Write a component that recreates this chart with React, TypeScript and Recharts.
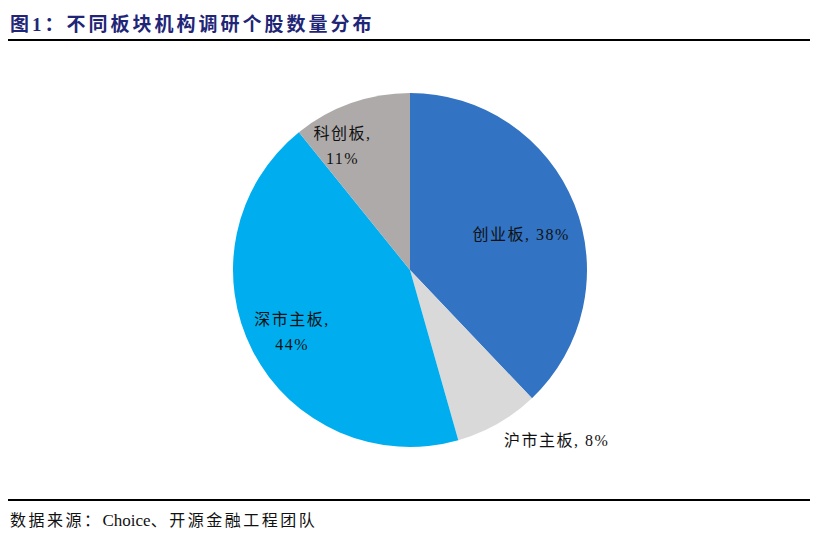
import { Cell, Pie, PieChart } from "recharts";

// Board names and share (%)
const boards = ["创业板", "沪市主板", "深市主板", "科创板"];
const shares = [37.9, 7.7, 43.6, 10.8];
const labelText = ["38%", "8%", "44%", "11%"];

const COLORS = ["#3273C3", "#D9D9D9", "#00AEEF", "#AEAAAA"];

// label placement: radius factor, angle shift (deg), split into two lines?
const labelRadius = [0.66, 1.27, 0.75, 0.8];
const labelShift = [-4, 11, 0, 9];
const labelTwoLines = [false, false, true, true];

const pieData = boards.map((name, i) => ({ name, value: shares[i] }));

const RAD = Math.PI / 180;
const SERIF = "'Times New Roman', 'Liberation Serif', 'Noto Sans CJK SC', serif";

function renderLabel(props: any) {
  const { cx, cy, midAngle, outerRadius, index } = props;
  const a = (midAngle + labelShift[index]) * RAD;
  const r = outerRadius * labelRadius[index];
  const x = cx + r * Math.cos(a);
  const y = cy - r * Math.sin(a);
  const font = {
    fontFamily: SERIF,
    fontSize: 16,
    letterSpacing: 1.5,
    fill: "#111",
  };
  if (labelTwoLines[index]) {
    return (
      <text x={x} y={y} textAnchor="middle" {...font}>
        <tspan x={x} dy={-6}>{boards[index] + ","}</tspan>
        <tspan x={x} dy={25}>{labelText[index]}</tspan>
      </text>
    );
  }
  return (
    <text x={x} y={y} textAnchor="middle" dominantBaseline="central" {...font}>
      {boards[index] + ", " + labelText[index]}
    </text>
  );
}

export default function App() {
  return (
    <div
      style={{
        position: "absolute",
        left: 0,
        top: 0,
        width: 813,
        height: 539,
        background: "#fff",
        fontFamily: SERIF,
      }}
    >
      <div
        style={{
          position: "absolute",
          left: 10,
          top: 9,
          fontSize: 19,
          fontWeight: "bold",
          color: "#1F2677",
          letterSpacing: 3,
          whiteSpace: "nowrap",
        }}
      >
        图1：不同板块机构调研个股数量分布
      </div>
      <div
        style={{
          position: "absolute",
          left: 8,
          top: 39,
          width: 802,
          height: 1.5,
          background: "#000",
        }}
      />
      <div style={{ position: "absolute", left: 0, top: 50 }}>
        <PieChart width={813} height={440}>
          <Pie
            data={pieData}
            dataKey="value"
            cx={405}
            cy={215}
            outerRadius={177}
            startAngle={90}
            endAngle={-270}
            stroke="none"
            label={renderLabel}
            labelLine={false}
            isAnimationActive={false}
          >
            {pieData.map((entry, index) => (
              <Cell key={`cell-${index}`} fill={COLORS[index % COLORS.length]} />
            ))}
          </Pie>
        </PieChart>
      </div>
      <div
        style={{
          position: "absolute",
          left: 8,
          top: 499,
          width: 802,
          height: 1.5,
          background: "#000",
        }}
      />
      <div
        style={{
          position: "absolute",
          left: 10,
          top: 507,
          fontSize: 16,
          letterSpacing: 2.5,
          color: "#111",
          whiteSpace: "nowrap",
        }}
      >
        数据来源：
        <span style={{ fontSize: 17, letterSpacing: 0 }}>Choice</span>
        、开源金融工程团队
      </div>
    </div>
  );
}
